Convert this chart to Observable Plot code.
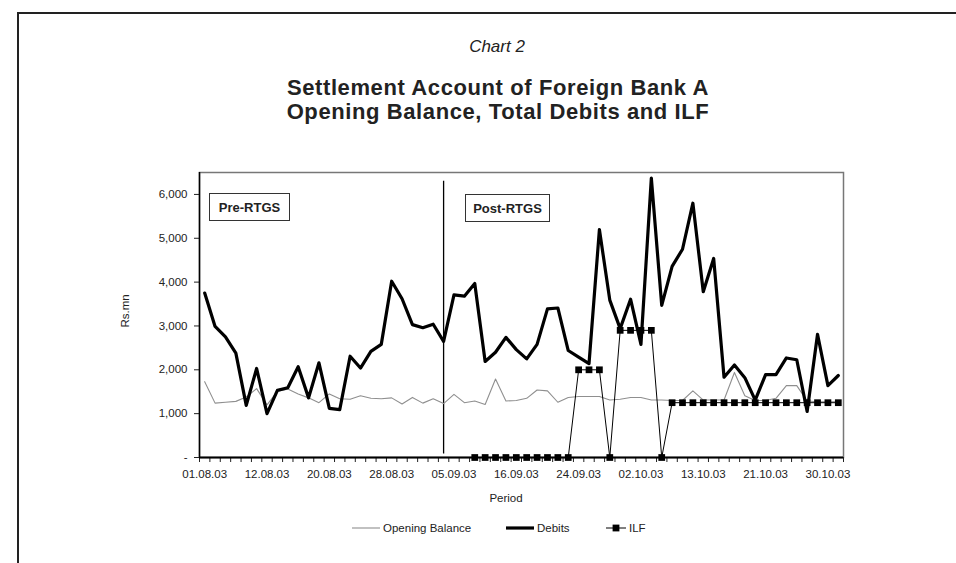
<!DOCTYPE html>
<html><head><meta charset="utf-8">
<script src="https://cdn.jsdelivr.net/npm/d3@7"></script>
<script src="https://cdn.jsdelivr.net/npm/@observablehq/plot@0.6"></script>
<style>
body{margin:0;background:#fff;font-family:"Liberation Sans",Arial,sans-serif;}
#page{position:relative;width:956px;height:563px;overflow:hidden;background:#fff;}
#border{position:absolute;left:17px;top:12px;width:1000px;height:600px;border:2px solid #222;}
.t{position:absolute;white-space:nowrap;color:#222;line-height:1;}
.c{transform:translateX(-50%);}
.box{position:absolute;border:1px solid #333;background:#fff;font-weight:bold;font-size:13px;color:#222;display:flex;align-items:center;justify-content:center;box-sizing:border-box;}
#chart{position:absolute;left:0;top:150px;}
.leg{position:absolute;top:520px;height:16px;display:flex;align-items:center;font-size:11.5px;color:#222;}
</style></head><body>
<div id="page">
<div id="border"></div>
<div class="t c" style="left:497px;top:38px;font-size:17px;font-style:italic;">Chart 2</div>
<div class="t c" style="left:498px;top:77px;font-size:22px;font-weight:bold;letter-spacing:0.6px;">Settlement Account of Foreign Bank A</div>
<div class="t c" style="left:498px;top:101px;font-size:22px;font-weight:bold;letter-spacing:0.6px;">Opening Balance, Total Debits and ILF</div>
<div id="chart"></div>
<div class="box" style="left:209px;top:193px;width:81px;height:28px;">Pre-RTGS</div>
<div class="box" style="left:465px;top:194px;width:85px;height:28px;">Post-RTGS</div>
<div class="t" style="left:126px;top:311px;font-size:11.5px;transform:translate(-50%,-50%) rotate(-90deg);">Rs.mn</div>
<div class="t c" style="left:506px;top:493px;font-size:11.5px;">Period</div>
<div id="legend"></div>
</div>
<script>
// categories (business days)
const dates = ["01.08.03","04.08.03","05.08.03","06.08.03","07.08.03","08.08.03","12.08.03","13.08.03","14.08.03","16.08.03",
"18.08.03","19.08.03","20.08.03","21.08.03","22.08.03","25.08.03","26.08.03","27.08.03","28.08.03","29.08.03",
"01.09.03","02.09.03","03.09.03","04.09.03","05.09.03","08.09.03","09.09.03","10.09.03","11.09.03","12.09.03",
"16.09.03","17.09.03","18.09.03","19.09.03","22.09.03","23.09.03","24.09.03","25.09.03","26.09.03","29.09.03",
"30.09.03","01.10.03","02.10.03","03.10.03","06.10.03","07.10.03","08.10.03","09.10.03","13.10.03","14.10.03",
"15.10.03","16.10.03","17.10.03","20.10.03","21.10.03","22.10.03","23.10.03","24.10.03","27.10.03","28.10.03",
"30.10.03","31.10.03"];
// series (Rs.mn)
const openingBalance = [1730,1240,1260,1280,1380,1570,1200,1510,1560,1450,
1360,1250,1450,1340,1330,1410,1350,1340,1360,1220,
1370,1240,1340,1230,1440,1250,1290,1210,1790,1290,
1300,1350,1540,1520,1260,1370,1390,1390,1390,1310,
1330,1370,1370,1310,1310,1300,1300,1520,1310,1310,
1310,1940,1410,1300,1300,1350,1640,1640,1290,1270,
1270,1270];
const debits = [3750,2990,2750,2380,1190,2030,1000,1530,1590,2070,
1360,2160,1120,1090,2310,2040,2420,2580,4020,3620,
3030,2960,3040,2650,3710,3680,3970,2190,2400,2740,
2460,2250,2580,3390,3410,2440,2290,2140,5200,3590,
2940,3610,2580,6370,3470,4360,4750,5800,3780,4540,
1830,2110,1820,1310,1890,1890,2270,2230,1050,2810,
1640,1870];
const ilf = [null,null,null,null,null,null,null,null,null,null,
null,null,null,null,null,null,null,null,null,null,
null,null,null,null,null,null,0,0,0,0,
0,0,0,0,0,0,2000,2000,2000,0,
2900,2900,2900,2900,0,1250,1250,1250,1250,1250,
1250,1250,1250,1250,1250,1250,1250,1250,1250,1250,
1250,1250];
const seriesNames = ["Opening Balance","Debits","ILF"];
const yTicks = [0,1000,2000,3000,4000,5000,6000];
const yMax = 6500;
const labelEvery = 6;
const dividerDate = "04.09.03";
const dividerSpan = [80, 6300];

const rows = vals => vals.map((v,i)=>({i, date: dates[i], v}));
const ob = rows(openingBalance);
const db = rows(debits);
const il = rows(ilf).filter(d => d.v != null);
const n = dates.length;
const boundaries = d3.range(n+1).map(i => i - 0.5);
const labelIdx = d3.range(0, n, labelEvery);
const dividerIdx = dates.indexOf(dividerDate);

const chart = Plot.plot({
  width: 956, height: 370,
  marginTop: 22, marginBottom: 63, marginLeft: 199, marginRight: 113,
  style: {fontFamily: "Liberation Sans, Arial, sans-serif", fontSize: "11.5px", color: "#222", background: "transparent", overflow: "visible"},
  x: {type: "linear", domain: [-0.5, n - 0.5]},
  y: {domain: [0, yMax]},
  marks: [
    Plot.frame({stroke: "#777", strokeWidth: 1.5}),
    Plot.axisY(yTicks, {tickSize: 5, tickPadding: 7, tickFormat: d => d === 0 ? "-" : d3.format(",")(d), label: null}),
    Plot.axisX(boundaries, {tickSize: 5, tickFormat: () => "", label: null}),
    Plot.axisX(labelIdx, {tickSize: 0, tickPadding: 12, tickFormat: i => dates[i], label: null}),
    Plot.ruleX([-0.5], {stroke: "#000", strokeWidth: 1.5}),
    Plot.ruleY([0], {stroke: "#000", strokeWidth: 2}),
    Plot.ruleX([dividerIdx], {y1: dividerSpan[0], y2: dividerSpan[1], stroke: "#000", strokeWidth: 1.3}),
    Plot.line(ob, {x: "i", y: "v", stroke: "#8f8f8f", strokeWidth: 1.1}),
    Plot.line(db, {x: "i", y: "v", stroke: "#000", strokeWidth: 3.2}),
    Plot.line(il, {x: "i", y: "v", stroke: "#000", strokeWidth: 1}),
    Plot.dot(il, {x: "i", y: "v", symbol: "square", r: 3.8, fill: "#000", stroke: "none"})
  ]
});
document.getElementById("chart").appendChild(chart);

// legend
const legendItems = [
  {name: seriesNames[0], left: 352, w: 28, stroke: "#8f8f8f", sw: 1.1, marker: false},
  {name: seriesNames[1], left: 506, w: 28, stroke: "#000", sw: 3.2, marker: false},
  {name: seriesNames[2], left: 606, w: 20, stroke: "#000", sw: 1, marker: true}
];
const leg = document.getElementById("legend");
for (const it of legendItems) {
  const div = document.createElement("div");
  div.className = "leg";
  div.style.left = it.left + "px";
  div.innerHTML = `<svg width="${it.w}" height="16" style="margin-right:3px"><line x1="0" x2="${it.w}" y1="8" y2="8" stroke="${it.stroke}" stroke-width="${it.sw}"/>${it.marker ? `<rect x="${it.w/2-3.4}" y="4.6" width="6.8" height="6.8" fill="#000"/>` : ""}</svg><span>${it.name}</span>`;
  leg.appendChild(div);
}
</script>
</body></html>
